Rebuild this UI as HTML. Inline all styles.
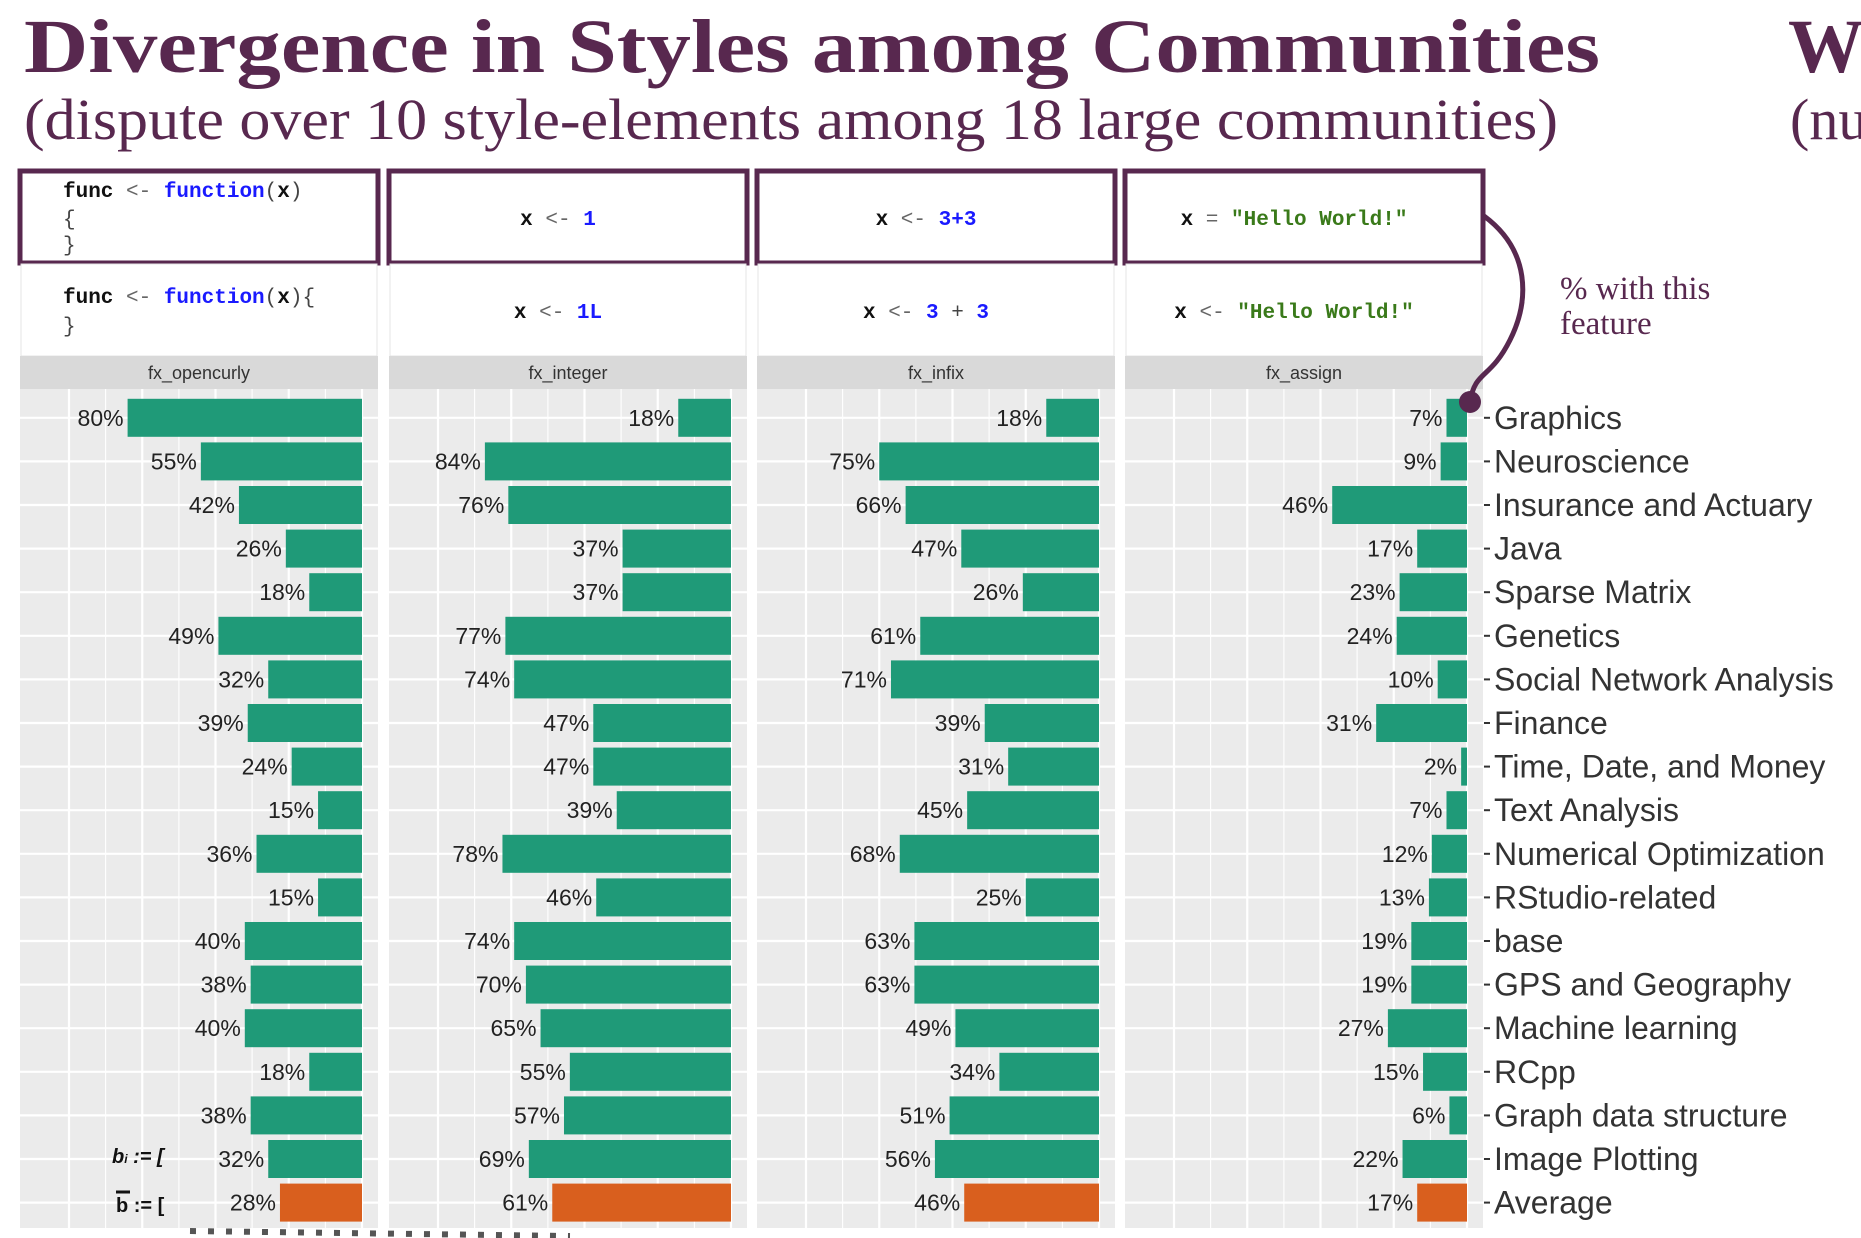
<!DOCTYPE html>
<html><head><meta charset="utf-8"><style>
html,body{margin:0;padding:0;background:#fff;}
svg{display:block;}
</style></head><body>
<svg id="chart" width="1861" height="1238" viewBox="0 0 1861 1238" xmlns="http://www.w3.org/2000/svg">
<text x="24" y="72" font-family="Liberation Serif, serif" font-weight="bold" font-size="76" fill="#58284f" textLength="1576" lengthAdjust="spacingAndGlyphs">Divergence in Styles among Communities</text>
<text x="1788" y="72" font-family="Liberation Serif, serif" font-weight="bold" font-size="76" fill="#58284f">W</text>
<text x="24" y="139" font-family="Liberation Serif, serif" font-size="58" fill="#58284f" textLength="1534" lengthAdjust="spacingAndGlyphs">(dispute over 10 style-elements among 18 large communities)</text>
<text x="1790" y="139" font-family="Liberation Serif, serif" font-size="58" fill="#58284f">(nu</text>
<g id="panels"></g>
<text x="1560" y="299" font-family="Liberation Serif, serif" font-size="33" fill="#58284f">% with this</text>
<text x="1560" y="334" font-family="Liberation Serif, serif" font-size="33" fill="#58284f">feature</text>
<path d="M1484 216 C1530 250,1530 300,1510 340 C1490 380,1475 370,1470 402" fill="none" stroke="#58284f" stroke-width="5"/>
<circle cx="1470" cy="402" r="11" fill="#58284f"/>
<text x="112" y="1163" font-family="Liberation Sans, sans-serif" font-weight="bold" font-style="italic" font-size="20" fill="#111">b<tspan font-size="12">i</tspan>  := [</text>
<text x="116" y="1212" font-family="Liberation Sans, sans-serif" font-weight="bold" font-size="20" fill="#111">b   := [</text>
<line x1="116" y1="1192" x2="130" y2="1192" stroke="#111" stroke-width="3"/>
<line x1="190" y1="1231" x2="570" y2="1236" stroke="#555" stroke-width="6" stroke-dasharray="6,12"/>
</svg>
<script>
const categories=["Graphics","Neuroscience","Insurance and Actuary","Java","Sparse Matrix","Genetics","Social Network Analysis","Finance","Time, Date, and Money","Text Analysis","Numerical Optimization","RStudio-related","base","GPS and Geography","Machine learning","RCpp","Graph data structure","Image Plotting","Average"];
const fxOpencurly=[80,55,42,26,18,49,32,39,24,15,36,15,40,38,40,18,38,32,28];
const fxInteger=[18,84,76,37,37,77,74,47,47,39,78,46,74,70,65,55,57,69,61];
const fxInfix=[18,75,66,47,26,61,71,39,31,45,68,25,63,63,49,34,51,56,46];
const fxAssign=[7,9,46,17,23,24,10,31,2,7,12,13,19,19,27,15,6,22,17];
const panelNames=["fx_opencurly","fx_integer","fx_infix","fx_assign"];
const seriesList=[fxOpencurly,fxInteger,fxInfix,fxAssign];
const NS="http://www.w3.org/2000/svg";
const g=document.getElementById('panels');
function mk(tag,attrs,parent){const e=document.createElementNS(NS,tag);for(const k in attrs)e.setAttribute(k,attrs[k]);(parent||g).appendChild(e);return e;}
const panelLeft=[20,389,757,1125],panelW=358;
const plotTop=389,plotBot=1228,rowTop=396,rowStep=43.6,barH=38;
function yRow(i){return rowTop+i*rowStep+rowStep/2;}
function xVal(p,v){const right=panelLeft[p]+panelW-16;return right-v/100*293;}
const codeTop=[
 [['func ','#111',1],['<- ','#666',0],['function','#1a1aff',1],['(','#444',0],['x','#111',1],[')','#444',0]],
 [['x ','#111',1],['<- ','#666',0],['1','#1a1aff',1]],
 [['x ','#111',1],['<- ','#666',0],['3+3','#1a1aff',1]],
 [['x ','#111',1],['= ','#666',0],['"Hello World!"','#3a7a1a',1]]];
const codeBot=[
 [['func ','#111',1],['<- ','#666',0],['function','#1a1aff',1],['(','#444',0],['x','#111',1],[')','#444',0],['{','#444',0]],
 [['x ','#111',1],['<- ','#666',0],['1L','#1a1aff',1]],
 [['x ','#111',1],['<- ','#666',0],['3',"#1a1aff",1],[' + ','#444',0],['3','#1a1aff',1]],
 [['x ','#111',1],['<- ','#666',0],['"Hello World!"','#3a7a1a',1]]];
function code(parts,x,y,anchor,name){
 const t=mk('text',{x:x,y:y,'font-family':'Liberation Mono, monospace','font-size':21,'text-anchor':anchor,'xml:space':'preserve'});
 
 
 parts.forEach(p=>{const s=mk('tspan',{fill:p[1],'font-weight':p[2]?'bold':'normal'},t);s.textContent=p[0];});
}
for(let p=0;p<4;p++){
 const L=panelLeft[p],data=seriesList[p];
 const box=mk('rect',{x:L,y:171,width:panelW,height:92,fill:'#fff',stroke:'#58284f','stroke-width':5});
 
 
 const b2=mk('rect',{x:L+1,y:264,width:panelW-2,height:92,fill:'#fff',stroke:'#e4e4e4','stroke-width':1});
 
 
 if(p===0){
  code(codeTop[0],63,197,'start','code-top-line1');
  code([['{','#444',0]],63,225,'start','code-top-line2');
  code([['}','#444',0]],63,251,'start','code-top-line3');
  code(codeBot[0],63,303,'start','code-bottom-line1');
  code([['}','#444',0]],63,332,'start','code-bottom-line2');
 } else {
  code(codeTop[p],L+panelW/2-10,225,'middle','code-top-'+panelNames[p]);
  code(codeBot[p],L+panelW/2-10,318,'middle','code-bottom-'+panelNames[p]);
 }
 const strip=mk('rect',{x:L,y:356,width:panelW,height:33,fill:'#d9d9d9'});
 
 
 const st=mk('text',{x:L+panelW/2,y:379,'text-anchor':'middle','font-family':'Liberation Sans, sans-serif','font-size':18,fill:'#333'});
 st.textContent=panelNames[p];
 
 
 const bg=mk('rect',{x:L,y:plotTop,width:panelW,height:plotBot-plotTop,fill:'#ebebeb'});
 
 
 for(let v=0;v<=100;v+=12.5){
  const x=xVal(p,v);if(x<L)continue;
  const gl=mk('line',{x1:x,x2:x,y1:plotTop,y2:plotBot,stroke:'#fff','stroke-width':v%25===0?2.2:1.1});
  
  
 }
 for(let i=0;i<categories.length;i++){
  const gl=mk('line',{x1:L,x2:L+panelW,y1:yRow(i),y2:yRow(i),stroke:'#fff','stroke-width':2.2});
  
  
 }
 data.forEach((v,i)=>{
  const x0=xVal(p,0),x1=xVal(p,v);
  const r=mk('rect',{x:x1,y:yRow(i)-barH/2,width:x0-x1,height:barH,fill:i===categories.length-1?'#d95f1e':'#1f9a78'});
  
  
  const t=mk('text',{x:x1-4,y:yRow(i)+8,'text-anchor':'end','font-family':'Liberation Sans, sans-serif','font-size':23,fill:'#222'});
  t.textContent=v+'%';
  
  
 });
}
categories.forEach((c,i)=>{
 const tk=mk('line',{x1:1484,x2:1490,y1:yRow(i),y2:yRow(i),stroke:'#333','stroke-width':2});
 
 
 const t=mk('text',{x:1494,y:yRow(i)+11,'font-family':'Liberation Sans, sans-serif','font-size':32,fill:'#333'});
 t.textContent=c;
 
 
});
</script>
</body></html>
